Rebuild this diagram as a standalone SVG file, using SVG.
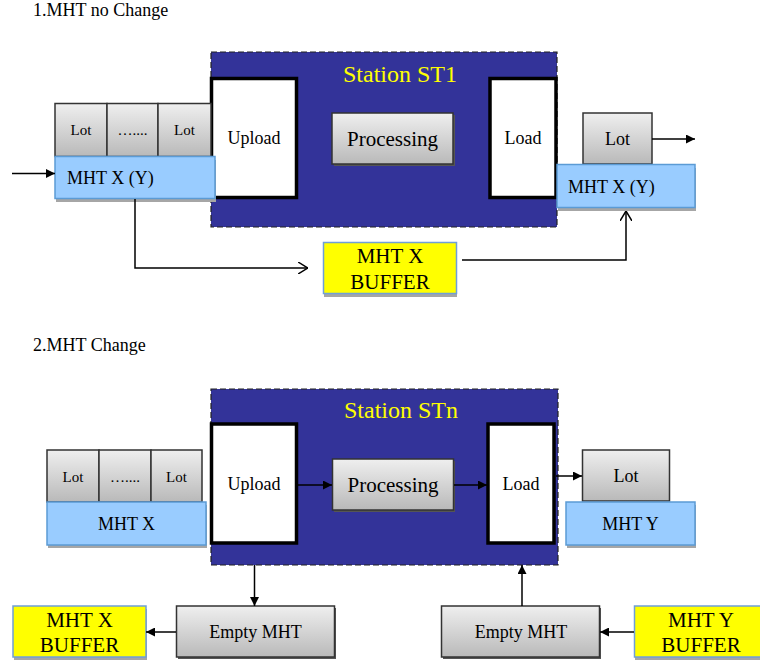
<svg xmlns="http://www.w3.org/2000/svg" width="760" height="664" viewBox="0 0 760 664" font-family="'Liberation Serif', 'Times New Roman', serif">
  <defs>
    <linearGradient id="gray" x1="0" y1="0" x2="0" y2="1">
      <stop offset="0" stop-color="#efefef"/>
      <stop offset="1" stop-color="#b9b9b9"/>
    </linearGradient>
    <marker id="arr" viewBox="0 0 10 10" refX="10" refY="5" markerWidth="10" markerHeight="9" markerUnits="userSpaceOnUse" orient="auto">
      <path d="M0,0 L10,5 L0,10 Z" fill="#000"/>
    </marker>
    <marker id="open" viewBox="0 0 10 12" refX="10" refY="6" markerWidth="10" markerHeight="12" markerUnits="userSpaceOnUse" orient="auto">
      <path d="M0,0 L10,6 L0,12" fill="none" stroke="#000" stroke-width="1.5"/>
    </marker>
  </defs>
  <style>
    text { font-family: "Liberation Serif", "Times New Roman", serif; fill: #000; }
    .title { font-size: 18px; }
    .station { fill: #333399; stroke: #222; stroke-width: 1.2; stroke-dasharray: 6 3; }
    .stlabel { font-size: 24px; fill: #ffff00; text-anchor: middle; }
    .io { fill: #fff; stroke: #000; stroke-width: 3.5; }
    .gbox { fill: url(#gray); stroke: #333; stroke-width: 1.5; }
    .gshadow { fill: #555; }
    .mht { fill: #99ccff; stroke: #5b9bd5; stroke-width: 1.5; }
    .buf { fill: #ffff00; stroke: #6f9fd8; stroke-width: 1.5; }
    .shadow { fill: #a6a6a6; }
    .t15 { font-size: 15px; text-anchor: middle; }
    .t18 { font-size: 18px; text-anchor: middle; }
    .t18l { font-size: 18px; }
    .t21 { font-size: 21px; text-anchor: middle; }
    .line { fill: none; stroke: #000; stroke-width: 1.5; }
  </style>

  <!-- section headings -->
  <text class="title" x="33" y="16">1.MHT no Change</text>
  <text class="title" x="33" y="351">2.MHT Change</text>

  <!-- ===== 1. MHT no change ===== -->
  <g id="station-st1">
    <rect class="station" x="211" y="52" width="346" height="175"/>
    <text class="stlabel" x="400" y="82">Station ST1</text>
  </g>
  <g id="upload-1">
    <rect class="io" x="211.5" y="78.5" width="85" height="119"/>
    <text class="t18" x="254" y="144">Upload</text>
  </g>
  <g id="processing-1">
    <rect class="gshadow" x="334" y="115" width="121" height="51"/>
    <rect class="gbox" x="332" y="113" width="121" height="51"/>
    <text class="t21" x="392.5" y="146">Processing</text>
  </g>
  <g id="load-1">
    <rect class="io" x="490" y="78.5" width="66" height="119"/>
    <text class="t18" x="523" y="144">Load</text>
  </g>
  <g id="lots-in-1">
    <rect class="gbox" x="55" y="103.5" width="52" height="53"/>
    <text class="t15" x="81" y="135">Lot</text>
    <rect class="gbox" x="107" y="103.5" width="51" height="53"/>
    <text class="t15" x="132.5" y="135">…....</text>
    <rect class="gbox" x="158" y="103.5" width="53" height="53"/>
    <text class="t15" x="184.5" y="135">Lot</text>
  </g>
  <g id="mht-in-1">
    <rect class="shadow" x="56" y="160" width="160" height="42"/>
    <rect class="mht" x="55" y="156.5" width="160" height="42"/>
    <text class="t18l" x="67" y="184">MHT X (Y)</text>
  </g>
  <g id="lot-out-1">
    <rect class="gbox" x="583" y="113" width="69" height="51"/>
    <text class="t18" x="617.5" y="145">Lot</text>
  </g>
  <g id="mht-out-1">
    <rect class="shadow" x="558" y="168" width="138" height="43"/>
    <rect class="mht" x="557" y="164.5" width="138" height="43"/>
    <text class="t18l" x="568" y="193">MHT X (Y)</text>
  </g>
  <g id="buffer-x-1">
    <rect class="shadow" x="324" y="246" width="133" height="51"/>
    <rect class="buf" x="323.5" y="242.5" width="133" height="51"/>
    <text class="t21" x="390" y="263">MHT X</text>
    <text class="t21" x="390" y="289">BUFFER</text>
  </g>

  <!-- ===== 2. MHT change ===== -->
  <g id="station-stn">
    <rect class="station" x="211" y="389" width="347" height="176"/>
    <text class="stlabel" x="401" y="418">Station STn</text>
  </g>
  <g id="upload-2">
    <rect class="io" x="211.5" y="424" width="85" height="119"/>
    <text class="t18" x="254" y="490">Upload</text>
  </g>
  <g id="processing-2">
    <rect class="gshadow" x="334" y="461" width="121" height="51"/>
    <rect class="gbox" x="332.5" y="459" width="121" height="51"/>
    <text class="t21" x="393" y="492">Processing</text>
  </g>
  <g id="load-2">
    <rect class="io" x="488" y="424" width="66" height="119"/>
    <text class="t18" x="521" y="490">Load</text>
  </g>
  <g id="lots-in-2">
    <rect class="gbox" x="47" y="450" width="52" height="52"/>
    <text class="t15" x="73" y="482">Lot</text>
    <rect class="gbox" x="99" y="450" width="52" height="52"/>
    <text class="t15" x="125" y="482">…....</text>
    <rect class="gbox" x="151" y="450" width="51" height="52"/>
    <text class="t15" x="176.5" y="482">Lot</text>
  </g>
  <g id="mht-x-2">
    <rect class="shadow" x="48" y="505" width="159" height="43"/>
    <rect class="mht" x="47" y="502" width="159" height="43"/>
    <text class="t18" x="126.5" y="530">MHT X</text>
  </g>
  <g id="lot-out-2">
    <rect class="gbox" x="582.5" y="450" width="87" height="51"/>
    <text class="t18" x="626" y="482">Lot</text>
  </g>
  <g id="mht-y-2">
    <rect class="shadow" x="567" y="505" width="129" height="43"/>
    <rect class="mht" x="566" y="502" width="129" height="43"/>
    <text class="t18" x="630.5" y="530">MHT Y</text>
  </g>
  <g id="empty-mht-left">
    <rect class="gshadow" x="178" y="608" width="158" height="51"/>
    <rect class="gbox" x="176.5" y="606" width="158" height="51"/>
    <text class="t18" x="255.5" y="638">Empty MHT</text>
  </g>
  <g id="buffer-x-2">
    <rect class="shadow" x="14" y="609" width="133" height="51"/>
    <rect class="buf" x="13" y="606" width="133" height="51"/>
    <text class="t21" x="79.5" y="627">MHT X</text>
    <text class="t21" x="79.5" y="652">BUFFER</text>
  </g>
  <g id="empty-mht-right">
    <rect class="gshadow" x="443" y="608" width="158" height="51"/>
    <rect class="gbox" x="441.5" y="606" width="158" height="51"/>
    <text class="t18" x="521" y="638">Empty MHT</text>
  </g>
  <g id="buffer-y-2">
    <rect class="shadow" x="635" y="609" width="133" height="51"/>
    <rect class="buf" x="634.5" y="606" width="133" height="51"/>
    <text class="t21" x="701" y="627">MHT Y</text>
    <text class="t21" x="701" y="652">BUFFER</text>
  </g>

  <!-- connectors -->
  <g id="connectors">
    <path class="line" d="M12,173.5 H55" marker-end="url(#arr)"/>
    <path class="line" d="M652,139 H695" marker-end="url(#arr)"/>
    <path class="line" d="M135,199 V268 H308" marker-end="url(#open)"/>
    <path class="line" d="M462,260 H626 V211" marker-end="url(#open)"/>

    <path class="line" d="M298,485 H332" marker-end="url(#arr)"/>
    <path class="line" d="M454,485 H487" marker-end="url(#arr)"/>
    <path class="line" d="M556,476 H582" marker-end="url(#arr)"/>
    <path class="line" d="M254.5,565 V606" marker-end="url(#arr)"/>
    <path class="line" d="M176,632 H146" marker-end="url(#arr)"/>
    <path class="line" d="M522,606 V565" marker-end="url(#arr)"/>
    <path class="line" d="M634,632 H600" marker-end="url(#arr)"/>
  </g>
</svg>
